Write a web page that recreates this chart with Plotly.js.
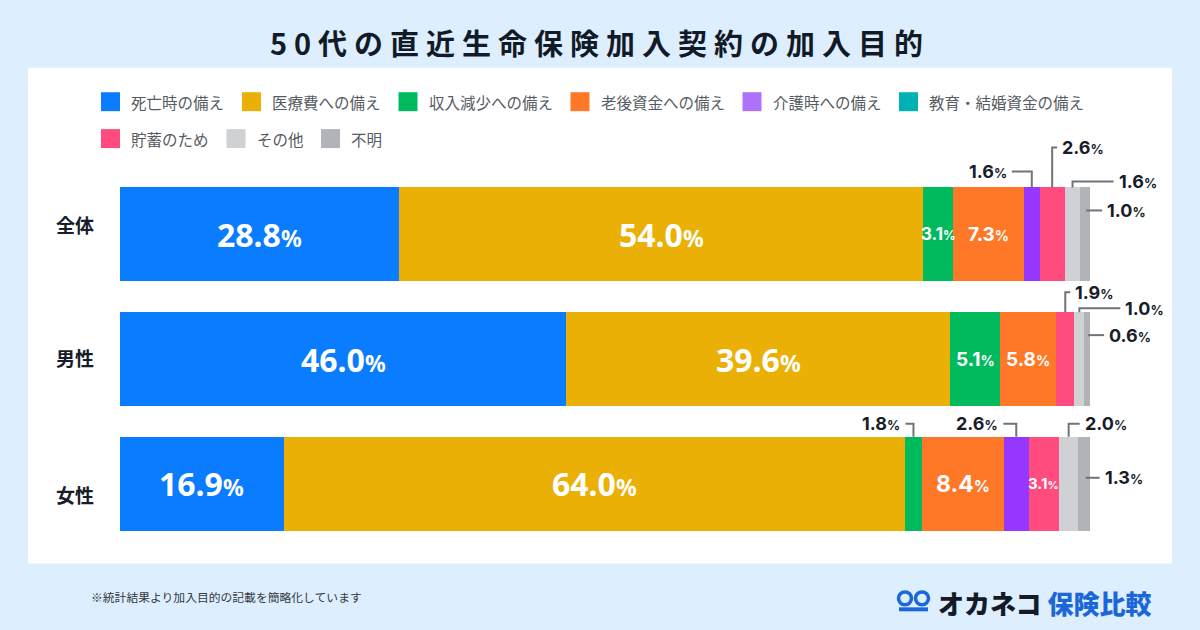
<!DOCTYPE html>
<html><head><meta charset="utf-8">
<script src="https://cdn.plot.ly/plotly-3.0.1.min.js"></script>
<style>
html,body{margin:0;padding:0;background:#ddeefe;}
#chart{width:1200px;height:630px;}
.gtitle{letter-spacing:7px;}
</style></head><body><div id="chart"></div>
<script>
// ---------- data ----------
const categories = ['全体', '男性', '女性'];
const purposes = ['死亡時の備え', '医療費への備え', '収入減少への備え', '老後資金への備え', '介護時への備え', '教育・結婚資金の備え', '貯蓄のため', 'その他', '不明'];
const death      = [28.8, 46.0, 16.9];
const medical    = [54.0, 39.6, 64.0];
const income     = [3.1, 5.1, 1.8];
const retirement = [7.3, 5.8, 8.4];
const nursing    = [1.6, 0, 2.6];
const education  = [0, 0, 0];
const savings    = [2.6, 1.9, 3.1];
const other      = [1.6, 1.0, 2.0];
const unknown    = [1.0, 0.6, 1.3];
const series = [death, medical, income, retirement, nursing, education, savings, other, unknown];

// ---------- style ----------
const barColors    = ['#0a7cff', '#ebb006', '#00ba5e', '#ff7828', '#9537ff', '#00b2b5', '#ff4b7d', '#cfd1d4', '#b0b3b7'];
const legendColors = ['#0a7cff', '#ebb006', '#00ba5e', '#ff7828', '#ad72f9', '#00b2b5', '#ff4b7d', '#cfd1d4', '#b0b3b7'];
const W = 1200, H = 630;
const M = {l: 120, r: 110, t: 171.5, b: 83.5};
const PW = W - M.l - M.r, PH = H - M.t - M.b;
const px2x = p => (p - M.l) / PW;
const py2y = p => (H - M.b - p) / PH;
const BARW = 0.752;
const XR = [0, 100];
const YR = [categories.length - 0.5, -0.5]; // reversed category range
const xToPaper = v => (v - XR[0]) / (XR[1] - XR[0]);
const yToPaper = v => (v - YR[0]) / (YR[1] - YR[0]);
const JP = '"Noto Sans CJK JP", "Noto Sans", sans-serif';
const NUM = 'Inter, "Noto Sans", sans-serif';
const DARK = '#171d2a';
const LINEC = '#6f747b';

// inside-label sizes [number, percent] by "cat-series"
const insideSize = {'2-3': [23, 16], '2-6': [15, 11], '0-2': [17, 12.5]};
// outside leader configuration (pixels)
const outside = {
  '0-4': {dir: 'up', h: 16, dx: -20},
  '0-6': {dir: 'up', h: 40, dx: 5},
  '0-7': {dir: 'up', h: 6, dx: 41},
  '0-8': {dir: 'side', dy: 23, dx: 16},
  '1-6': {dir: 'up', h: 20, dx: 5},
  '1-7': {dir: 'up', h: 4, dx: 41},
  '1-8': {dir: 'side', dy: 23, dx: 16},
  '2-2': {dir: 'up', h: 13, dx: -8},
  '2-4': {dir: 'up', h: 13, dx: -13},
  '2-7': {dir: 'up', h: 13, dx: 11},
  '2-8': {dir: 'side', dy: 41, dx: 14}
};
const catShift = [10, 2, -11];

// ---------- traces ----------
const traces = series.map((vals, i) => ({
  type: 'bar', orientation: 'h', name: purposes[i],
  y: categories, x: vals,
  marker: {color: barColors[i], line: {width: 0}},
  hoverinfo: 'skip', showlegend: false
}));

const annotations = [];
const shapes = [];

// white panel
shapes.push({type: 'rect', xref: 'paper', yref: 'paper', layer: 'below',
  x0: px2x(28), x1: px2x(1172), y0: py2y(564), y1: py2y(67),
  fillcolor: '#ffffff', line: {width: 0}});

// value labels
categories.forEach((cat, c) => {
  let cum = 0;
  series.forEach((vals, s) => {
    const v = vals[c];
    const center = cum + v / 2;
    cum += v;
    if (v <= 0) return;
    const key = c + '-' + s;
    const txt = v.toFixed(1);
    if (outside[key]) {
      const o = outside[key];
      const top = c - BARW / 2;
      let path, xs, ys, anchor;
      if (o.dir === 'up') {
        path = `M 0 0 L 0 ${o.h} L ${o.dx} ${o.h}`;
        xs = o.dx + (o.dx > 0 ? 3 : -3); ys = o.h; anchor = o.dx > 0 ? 'left' : 'right';
      } else {
        path = `M 1 ${-o.dy} L ${1 + o.dx} ${-o.dy}`;
        xs = 1 + o.dx + 3; ys = -o.dy; anchor = 'left';
      }
      shapes.push({type: 'path', xref: 'paper', yref: 'paper', xsizemode: 'pixel', ysizemode: 'pixel',
        xanchor: xToPaper(center), yanchor: yToPaper(top), path: path,
        line: {color: LINEC, width: 2}});
      annotations.push({xref: 'x', yref: 'y', x: center, y: top, xshift: xs, yshift: ys,
        xanchor: anchor, yanchor: 'middle', showarrow: false,
        text: `${txt}<span style="font-size:13px">%</span>`,
        font: {family: NUM, size: 18, color: DARK, weight: 700}});
    } else {
      let sz = v >= 10 ? [32, 23] : [19, 14];
      if (insideSize[key]) sz = insideSize[key];
      annotations.push({xref: 'x', yref: 'y', x: center, y: c, showarrow: false,
        xanchor: 'center', yanchor: 'middle',
        text: `${txt}<span style="font-size:${sz[1]}px">%</span>`,
        font: {family: v >= 10 ? '"Noto Sans", sans-serif' : NUM, size: sz[0], color: '#ffffff', weight: 700}});
    }
  });
  // category labels
  annotations.push({xref: 'paper', yref: 'y', x: px2x(96), y: c, yshift: catShift[c],
    xanchor: 'right', yanchor: 'middle', showarrow: false, text: cat,
    font: {family: JP, size: 19, color: DARK, weight: 700}});
});

// custom legend
let lx = 101;
purposes.forEach((p, i) => {
  if (i === 6) lx = 101;
  const cy = i < 6 ? 101 : 138;
  shapes.push({type: 'rect', xref: 'paper', yref: 'paper',
    x0: px2x(lx), x1: px2x(lx + 19), y0: py2y(cy + 9.5), y1: py2y(cy - 9.5),
    fillcolor: legendColors[i], line: {width: 0}});
  annotations.push({xref: 'paper', yref: 'paper', x: px2x(lx + 28), y: py2y(cy),
    xanchor: 'left', yanchor: 'middle', showarrow: false, text: p,
    font: {family: JP, size: 15.5, color: '#565b63'}});
  lx += 28 + p.length * 15.5 + 20;
});

// footnote
annotations.push({xref: 'paper', yref: 'paper', x: px2x(89), y: py2y(597),
  xanchor: 'left', yanchor: 'middle', showarrow: false,
  text: '※統計結果より加入目的の記載を簡略化しています',
  font: {family: JP, size: 11.8, color: '#333840'}});

// logo
annotations.push({xref: 'paper', yref: 'paper', x: px2x(936), y: py2y(603),
  xanchor: 'left', yanchor: 'middle', showarrow: false,
  text: 'オカネコ <span style="color:#1b66d8">保険比較</span>',
  font: {family: JP, size: 26, color: '#141a26', weight: 900}});
[[905, 599], [922, 599]].forEach(([cx, cy]) => {
  shapes.push({type: 'circle', xref: 'paper', yref: 'paper',
    x0: px2x(cx - 6.5), x1: px2x(cx + 6.5), y0: py2y(cy + 6.5), y1: py2y(cy - 6.5),
    line: {color: '#1b66d8', width: 3.5}, fillcolor: 'rgba(0,0,0,0)'});
});
shapes.push({type: 'rect', xref: 'paper', yref: 'paper',
  x0: px2x(899), x1: px2x(928), y0: py2y(612), y1: py2y(608),
  fillcolor: '#1b66d8', line: {width: 0}});

const layout = {
  width: W, height: H,
  margin: M,
  paper_bgcolor: '#ddeefe',
  plot_bgcolor: 'rgba(0,0,0,0)',
  barmode: 'stack',
  bargap: 1 - BARW,
  showlegend: false,
  hovermode: false,
  title: {text: '50代の直近生命保険加入契約の加入目的', xref: 'container', yref: 'container',
    x: 0.5, y: 1 - 45 / H, xanchor: 'center', yanchor: 'middle',
    font: {family: JP, size: 29, color: '#131a27', weight: 700}},
  xaxis: {range: XR, autorange: false, visible: false, fixedrange: true},
  yaxis: {type: 'category', range: YR, autorange: false, showticklabels: false, showgrid: false,
    zeroline: false, showline: false, ticks: '', fixedrange: true},
  shapes: shapes,
  annotations: annotations
};

Plotly.newPlot('chart', traces, layout, {displayModeBar: false, staticPlot: true});
</script>
</body></html>
